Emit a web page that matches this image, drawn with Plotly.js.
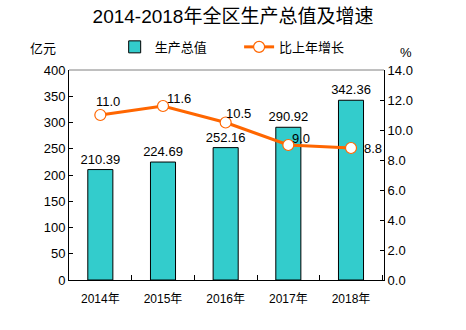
<!DOCTYPE html>
<html><head><meta charset="utf-8">
<script src="https://cdn.plot.ly/plotly-3.0.1.min.js"></script>
<style>html,body{margin:0;padding:0;background:#fff}#c{width:466px;height:330px}</style>
</head><body><div id="c"></div>
<script>
const years = ['2014年','2015年','2016年','2017年','2018年'];
const gdp = [210.39, 224.69, 252.16, 290.92, 342.36];
const growth = [11.0, 11.6, 10.5, 9.0, 8.8];

const F = '"Liberation Sans", "Noto Sans CJK SC", Arial, sans-serif';
const txtFont = {family:F, size:13, color:'#000'};
const traces = [
  {type:'bar', name:'生产总值', x:years, y:gdp, legend:'legend',
   marker:{color:'#33CCCC', line:{color:'#000', width:1}},
   width:0.4,
   text:gdp.map(v=>v.toFixed(2)), textposition:'outside', cliponaxis:false, constraintext:'none',
   textfont:txtFont},
  {type:'scatter', name:'比上年增长', x:years, y:growth, yaxis:'y2', legend:'legend2',
   mode:'lines+markers',
   line:{color:'#FF6600', width:3},
   marker:{symbol:'circle', size:11, color:'#fff', line:{color:'#FF6600', width:1.2}}}
];
// label offsets (pixels) for growth labels
const shiftX = [8, 16, 13, 13, 22];
const shiftY = [14, 8, 9, 7, 0];
const growthLabels = growth.map((v,i)=>({
  x: years[i], y: v, xref:'x', yref:'y2', text: v.toFixed(1), showarrow:false,
  xanchor:'center', yanchor:'middle', xshift: shiftX[i], yshift: shiftY[i], font: txtFont
}));
const legFont = {family:F, size:13, color:'#000'};
const layout = {
  width:466, height:330,
  margin:{l:69, r:82, t:70, b:50},
  paper_bgcolor:'#fff', plot_bgcolor:'#fff',
  font:{family:F, size:12, color:'#000'},
  title:{text:'2014-2018年全区生产总值及增速', x:0.5, xanchor:'center', y:0.95, yanchor:'middle',
         font:{family:F, size:19, color:'#000'}},
  showlegend:true,
  legend:{orientation:'h', x:0.145, y:1.11, xanchor:'left', yanchor:'middle', font:legFont},
  legend2:{orientation:'h', x:0.54, y:1.11, xanchor:'left', yanchor:'middle', font:legFont},
  xaxis:{type:'category', showline:true, linecolor:'#000', linewidth:1,
         ticks:'inside', tickson:'boundaries', ticklen:5, tickcolor:'#000', ticklabelstandoff:8,
         showgrid:false, tickfont:{family:F, size:12, color:'#000'}},
  yaxis:{range:[0,400], dtick:50, showline:true, linecolor:'#000', linewidth:1,
         showgrid:false, zeroline:false, ticks:'inside', ticklen:4, tickcolor:'#000',
         tickfont:{family:F, size:13, color:'#000'}},
  yaxis2:{range:[0,14], dtick:2, tickformat:'.1f', overlaying:'y', side:'right',
          showline:true, linecolor:'#000', linewidth:1, showgrid:false, zeroline:false,
          ticks:'inside', ticklen:4, tickcolor:'#000',
          tickfont:{family:F, size:13, color:'#000'}},
  shapes:[{type:'line', xref:'paper', yref:'paper', x0:0, x1:1, y0:1, y1:1,
           line:{color:'#808080', width:1}}],
  annotations:[
    {text:'亿元', xref:'paper', yref:'paper', x:-0.035, y:1.1, xanchor:'right', yanchor:'middle',
     showarrow:false, font:{family:F, size:13, color:'#000'}},
    {text:'%', xref:'paper', yref:'paper', x:1.07, y:1.085, xanchor:'center', yanchor:'middle',
     showarrow:false, font:{family:F, size:13, color:'#000'}}
  ].concat(growthLabels)
};
Plotly.newPlot('c', traces, layout, {displayModeBar:false, staticPlot:true});
</script></body></html>
